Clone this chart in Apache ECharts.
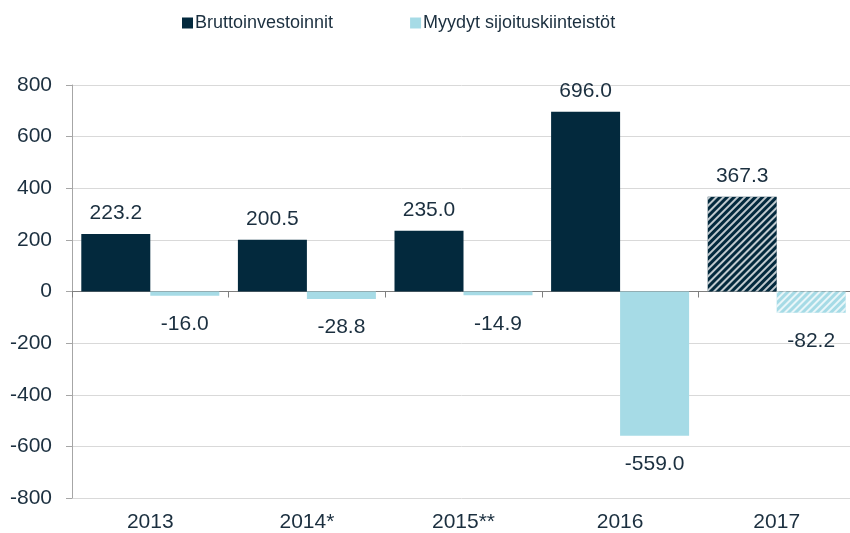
<!DOCTYPE html>
<html>
<head>
<meta charset="utf-8">
<script src="https://cdn.jsdelivr.net/npm/echarts@6/dist/echarts.min.js"></script>
<style>
    html, body { margin: 0; padding: 0; background: #fff; }
    #chart { width: 850px; height: 533px; }
</style>
</head>
<body>
<div id="chart"></div>
<script>
    // data
    var categories = ['2013', '2014*', '2015**', '2016', '2017'];
    var bruttoinvestoinnit = [223.2, 200.5, 235.0, 696.0, 367.3];
    var myydyt = [-16.0, -28.8, -14.9, -559.0, -82.2];
    var seriesNames = ['Bruttoinvestoinnit', 'Myydyt sijoituskiinteistöt'];
    var hatchedIndex = 4; // 2017 ennuste, viivoitettu

    var darkColor = '#03293d';
    var lightColor = '#a6dbe6';
    var textColor = '#1b2f3f';
    var font = 'Liberation Sans, Arial, sans-serif';

    var hatch = {
        symbol: 'rect',
        symbolSize: 1,
        color: 'rgba(255,255,255,0.75)',
        dashArrayX: [1, 0],
        dashArrayY: [2, 3],
        rotation: -Math.PI / 4
    };

    function toData(arr) {
        return arr.map(function (v, i) {
            if (i === hatchedIndex) {
                return { value: v, itemStyle: { decal: hatch } };
            }
            return v;
        });
    }

    var myChart = echarts.init(document.getElementById('chart'), null, { renderer: 'canvas' });
    var option = {
        animation: false,
        textStyle: { fontFamily: font },
        legend: {
            top: 9,
            left: 177,
            itemWidth: 11,
            itemHeight: 11,
            itemGap: 77,
            icon: 'rect',
            textStyle: { fontSize: 18, color: textColor, fontFamily: font, padding: [0, 0, 0, -3] },
            data: seriesNames
        },
        grid: {
            left: 72,
            width: 783,
            top: 85,
            bottom: 35,
            containLabel: false,
            outerBoundsMode: 'none'
        },
        xAxis: [{
            type: 'category',
            data: categories,
            position: 'bottom',
            axisLine: { show: false, onZero: false },
            axisTick: { show: false },
            axisLabel: { fontSize: 21, color: textColor, margin: 14, fontFamily: font }
        }, {
            type: 'category',
            data: categories,
            position: 'bottom',
            axisLine: { show: true, onZero: true, lineStyle: { color: '#7f7f7f', width: 1 } },
            axisTick: { show: true, length: 6, lineStyle: { color: '#7f7f7f' } },
            axisLabel: { show: false }
        }],
        yAxis: {
            type: 'value',
            min: -800,
            max: 800,
            interval: 200,
            axisLine: { show: true, lineStyle: { color: '#a6a6a6' } },
            axisTick: { show: true, length: 6, lineStyle: { color: '#a6a6a6' } },
            axisLabel: { fontSize: 21, color: textColor, margin: 20, fontFamily: font },
            splitLine: { show: true, lineStyle: { color: '#d9d9d9', width: 1 } }
        },
        series: [{
            name: seriesNames[0],
            type: 'bar',
            xAxisIndex: 0,
            barWidth: 69,
            barGap: '0%',
            itemStyle: { color: darkColor },
            label: {
                show: true,
                position: 'top',
                distance: 10,
                fontSize: 21,
                color: textColor,
                fontFamily: font,
                formatter: function (p) { return p.value.toFixed(1); }
            },
            data: toData(bruttoinvestoinnit)
        }, {
            name: seriesNames[1],
            type: 'bar',
            xAxisIndex: 0,
            barWidth: 69,
            barGap: '0%',
            itemStyle: { color: lightColor },
            label: {
                show: true,
                position: 'bottom',
                distance: 18,
                fontSize: 21,
                color: textColor,
                fontFamily: font,
                formatter: function (p) { return p.value.toFixed(1); }
            },
            data: toData(myydyt)
        }]
    };
    myChart.setOption(option);
</script>
</body>
</html>
